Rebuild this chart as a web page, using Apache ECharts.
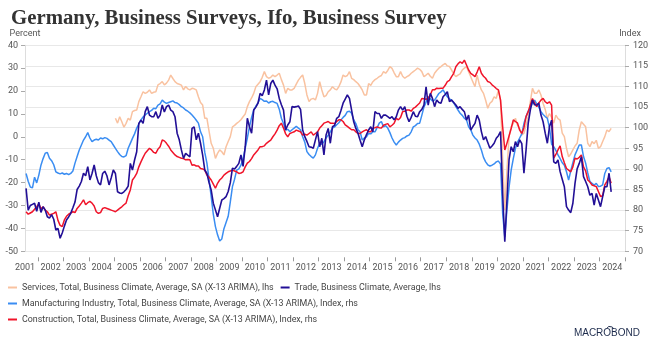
<!DOCTYPE html>
<html>
<head>
<meta charset="utf-8">
<script src="https://cdn.jsdelivr.net/npm/echarts@6/dist/echarts.min.js"></script>
<style>
  html, body { margin: 0; padding: 0; background: #ffffff; }
  #chart { width: 652px; height: 346px; }
</style>
</head>
<body>
<div id="chart"></div>
<script>
// Monthly categories, July 2001 .. December 2024
const months = [];
for (let y = 2001; y <= 2024; y++) {
  for (let mo = 1; mo <= 12; mo++) {
    if (y === 2001 && mo < 7) continue;
    months.push(y + '-' + String(mo).padStart(2, '0'));
  }
}

// Series names
const nameServices = 'Services, Total, Business Climate, Average, SA (X-13 ARIMA), lhs';
const nameTrade = 'Trade, Business Climate, Average, lhs';
const nameManufacturing = 'Manufacturing Industry, Total, Business Climate, Average, SA (X-13 ARIMA), Index, rhs';
const nameConstruction = 'Construction, Total, Business Climate, Average, SA (X-13 ARIMA), Index, rhs';

// Services balance (percent), monthly from Jul 2001; series begins Jan 2005
const services = [
  null, null, null, null, null, null,
  null, null, null, null, null, null, null, null, null, null, null, null,
  null, null, null, null, null, null, null, null, null, null, null, null,
  null, null, null, null, null, null, null, null, null, null, null, null,
  8.1, 6.0, 8.8, 6.6, 4.2, 5.9, 8.1, 7.3, 11.0, 11.5, 11.7, 15.4,
  17.5, 19.7, 19.0, 19.5, 20.5, 19.0, 19.5, 19.7, 22.7, 23.3, 24.1, 22.7,
  23.5, 24.8, 27.0, 25.5, 24.1, 23.3, 23.0, 22.6, 20.5, 22.0, 21.0, 20.5,
  21.2, 21.0, 20.5, 17.5, 15.0, 13.9, 8.1, 8.1, 2.5, -2.8, -5.0, -9.4,
  -7.2, -5.7, -6.5, -7.9, -4.3, -2.0, 0.1, 4.4, 5.0, 5.9, 6.6, 7.5,
  8.8, 10.0, 13.2, 15.4, 17.0, 19.0, 21.9, 23.0, 24.1, 26.0, 28.5, 26.3,
  25.6, 26.0, 27.0, 26.3, 27.0, 27.8, 25.0, 22.6, 19.0, 21.2, 20.5, 20.5,
  21.2, 23.0, 24.8, 26.0, 27.0, 23.3, 18.3, 15.4, 16.5, 16.8, 16.1, 19.0,
  24.1, 20.5, 17.5, 18.0, 19.7, 20.5, 21.9, 21.0, 20.5, 21.9, 24.0, 27.0,
  26.3, 26.8, 28.5, 25.6, 25.0, 24.1, 23.3, 22.0, 20.5, 18.3, 18.3, 23.3,
  22.5, 24.1, 25.0, 25.6, 26.3, 26.8, 28.5, 27.8, 29.0, 30.7, 29.9, 28.0,
  26.3, 26.3, 28.5, 26.5, 25.6, 26.3, 26.8, 27.8, 28.5, 29.2, 30.0, 29.5,
  28.5, 26.3, 27.0, 27.8, 26.5, 25.6, 27.8, 29.0, 30.0, 30.7, 31.5, 32.1,
  31.0, 30.7, 29.2, 27.5, 26.3, 27.0, 27.5, 29.2, 30.0, 30.7, 28.5, 26.3,
  24.0, 21.9, 27.0, 23.0, 20.5, 19.0, 16.0, 12.5, 14.7, 15.5, 17.5, 16.8,
  20.5, 16.0, -10.0, -32.0, -15.0, 0.1, 4.4, 5.9, 8.1, 5.0, 3.7, 0.8,
  1.6, 5.0, 8.8, 15.4, 21.2, 19.0, 19.0, 20.5, 18.3, 14.7, 12.0, 8.1,
  10.2, 8.5, 6.0, 9.5, 8.0, 7.3, 1.6, 0.1, -5.0, -8.7, -7.5, -5.7,
  -4.0, -2.8, 3.0, 6.6, 5.5, 4.4, -2.8, -4.3, -2.1, -3.0, -1.5, -5.0,
  -4.3, -2.0, 0.1, 3.0, 2.3, 3.7
];

// Trade balance (percent), monthly from Jul 2001
const trade = [
  -22.5, -32.0, -30.0, -29.5, -29.0, -32.5,
  -28.5, -33.0, -30.5, -32.0, -34.9, -35.5, -34.0, -36.0, -40.7, -40.0, -44.3, -42.0,
  -39.0, -36.3, -35.0, -33.4, -31.0, -28.5, -23.0, -21.5, -19.5, -15.9, -17.0, -13.0,
  -18.8, -16.0, -12.3, -17.0, -20.0, -21.0, -16.0, -15.0, -17.0, -21.0, -18.0, -14.5,
  -16.0, -24.0, -24.5, -24.7, -24.0, -23.0, -21.5, -11.6, -14.5, -10.1, -6.5, 5.9,
  7.3, 5.9, 11.0, 13.2, 9.5, 8.8, 8.8, 11.0, 8.1, 9.5, 13.9, 10.9,
  13.2, 13.9, 11.7, 11.0, 8.8, 1.6, -1.3, -5.7, -9.4, -7.2, -8.0, -8.7,
  3.7, 4.4, -1.3, 1.6, -2.8, -8.0, -14.5, -16.0, -20.0, -23.2, -29.0, -31.9,
  -34.9, -31.2, -27.6, -27.0, -26.1, -23.9, -20.0, -13.7, -14.0, -12.9, -11.6, -7.9,
  -12.9, -4.3, 8.1, 4.4, 1.6, 11.7, 13.0, 14.7, 19.0, 18.0, 20.5, 24.8,
  18.3, 23.3, 24.8, 22.6, 21.0, 16.8, 14.0, 11.7, 3.0, 5.2, 6.6, 13.2,
  13.0, 13.2, 13.5, 12.0, 3.0, 0.1, -2.0, -4.3, -4.5, -5.0, -1.3, 2.3,
  -4.3, -0.6, -7.9, 0.8, 3.7, -2.8, 4.4, 5.0, 8.1, 8.8, 11.5, 14.7,
  16.5, 18.3, 16.8, 11.7, 6.6, 3.7, 1.6, -1.5, -4.3, -1.3, 1.0, 3.0,
  4.4, 2.3, 11.0, 10.2, 10.2, 8.1, 9.5, 9.5, 8.8, 8.1, 8.8, 7.4,
  8.8, 11.7, 13.2, 11.7, 13.2, 9.0, 6.6, 8.5, 11.0, 9.0, 8.8, 11.0,
  12.0, 13.9, 21.9, 13.9, 19.0, 16.8, 13.2, 16.1, 15.0, 14.7, 17.5, 18.5,
  19.7, 15.4, 16.1, 15.0, 13.9, 12.5, 13.2, 12.0, 11.0, 7.3, 9.5, 3.0,
  4.5, 5.9, 9.5, 7.3, 2.3, -1.3, 0.1, -2.5, -5.0, -4.0, -2.8, -0.6,
  0.5, 2.3, -25.0, -45.8, -28.0, -10.0, -4.3, -6.5, -2.1, -4.3, -1.3, -3.0,
  -15.9, -5.7, 5.9, 11.7, 16.1, 14.0, 13.9, 14.7, 9.5, 6.6, 1.6, -2.8,
  4.4, 7.3, -10.9, -11.6, -10.1, -15.2, -18.5, -21.8, -30.5, -32.0, -33.1, -29.0,
  -20.3, -14.0, -11.6, -8.7, -17.4, -19.5, -21.8, -25.5, -24.7, -29.8, -24.7, -27.6,
  -30.5, -26.1, -21.8, -21.8, -15.9, -24.0
];

// Manufacturing index (2015 = 100), monthly from Jul 2001
const manufacturing = [
  88.9, 87.0, 85.6, 85.4, 88.0, 86.6,
  88.5, 90.9, 92.5, 93.8, 94.0, 92.6, 92.0, 91.0, 89.3, 89.0, 88.8, 89.0,
  88.7, 88.9, 88.6, 88.9, 89.5, 91.4, 93.0, 94.6, 95.8, 97.0, 97.8, 98.8,
  97.5, 96.6, 97.0, 97.2, 97.0, 97.5, 97.3, 97.6, 97.4, 97.0, 96.6, 95.8,
  95.0, 94.2, 93.5, 93.0, 92.9, 93.2, 95.0, 96.2, 97.4, 98.5, 99.9, 100.9,
  101.9, 102.6, 103.1, 103.5, 103.9, 104.2, 104.7, 104.6, 105.5, 105.8, 106.7, 106.2,
  105.9, 106.1, 106.3, 106.5, 106.1, 106.0, 105.6, 105.1, 104.8, 104.3, 104.0, 103.6,
  103.1, 102.5, 101.8, 101.1, 99.0, 97.8, 94.0, 91.4, 87.5, 83.3, 79.0, 76.0,
  74.0, 72.5, 73.0, 75.5, 77.0, 78.5, 82.0, 85.7, 87.5, 89.7, 90.0, 90.9,
  92.5, 95.0, 97.5, 100.2, 102.5, 104.3, 105.2, 106.0, 107.1, 106.8, 106.4, 106.5,
  106.0, 106.3, 106.4, 106.1, 105.9, 104.5, 102.3, 101.0, 99.4, 99.6, 99.0, 99.5,
  99.9, 100.3, 99.9, 99.5, 97.8, 96.5, 94.2, 93.5, 93.0, 92.6, 93.4, 95.0,
  96.2, 96.0, 96.6, 97.5, 98.2, 99.0, 99.9, 100.2, 100.7, 101.2, 101.9, 102.5,
  103.0, 103.9, 104.0, 103.5, 101.9, 101.0, 99.5, 99.0, 97.0, 97.5, 97.8, 98.6,
  98.5, 99.0, 99.0, 100.0, 101.1, 101.5, 100.2, 100.5, 99.9, 98.8, 97.5, 96.5,
  95.8, 96.5, 97.0, 97.4, 97.6, 98.0, 98.2, 99.0, 100.2, 100.5, 101.0, 101.1,
  103.0, 105.0, 106.2, 107.5, 107.0, 106.5, 106.7, 107.5, 108.3, 108.7, 109.2, 108.3,
  107.5, 107.0, 106.7, 106.0, 105.1, 104.3, 103.5, 103.0, 102.3, 101.9, 100.2, 99.5,
  98.2, 97.5, 97.0, 96.0, 94.6, 92.8, 91.7, 91.0, 90.7, 90.9, 91.2, 91.7,
  91.9, 91.2, 79.2, 73.5, 80.0, 85.5, 89.7, 92.5, 95.0, 96.5, 97.5, 98.5,
  101.0, 102.7, 104.0, 104.7, 106.0, 106.7, 105.8, 105.0, 103.9, 103.2, 102.7, 102.3,
  100.0, 96.0, 95.4, 94.5, 93.4, 92.5, 91.5, 90.9, 89.3, 87.3, 89.5, 91.5,
  93.4, 94.6, 95.8, 95.8, 93.0, 91.4, 89.0, 86.9, 86.5, 86.1, 86.5, 85.7,
  85.8, 86.1, 88.9, 90.1, 90.3, 89.3
];

// Construction index (2015 = 100), monthly from Jul 2001
const construction = [
  79.6, 79.0, 79.3, 79.6, 80.2, 80.8,
  81.5, 80.3, 80.8, 80.0, 79.6, 78.8, 79.0, 79.2, 79.6, 77.5, 76.3, 76.0,
  77.6, 78.5, 79.0, 79.3, 79.6, 79.4, 80.4, 81.0, 81.7, 82.5, 81.3, 81.8,
  82.1, 81.7, 81.0, 79.6, 79.2, 79.4, 80.4, 80.6, 80.4, 80.2, 80.0, 79.8,
  79.6, 80.0, 80.4, 80.8, 81.3, 81.7, 83.5, 84.9, 87.3, 88.0, 88.9, 90.5,
  91.7, 92.8, 93.8, 94.4, 95.0, 94.6, 94.0, 93.8, 94.8, 95.4, 97.0, 96.8,
  96.2, 95.5, 94.6, 94.0, 93.4, 93.0, 92.8, 92.6, 92.5, 92.2, 92.3, 92.2,
  90.9, 91.0, 90.7, 90.7, 90.1, 90.0, 89.7, 88.5, 88.0, 87.3, 86.3, 85.3,
  86.5, 87.3, 87.8, 88.5, 88.9, 89.3, 89.5, 89.7, 89.5, 89.3, 88.9, 89.0,
  89.3, 90.5, 91.4, 91.8, 92.5, 93.4, 94.0, 94.6, 95.4, 95.4, 95.6, 96.2,
  96.6, 97.0, 97.8, 98.5, 99.4, 100.5, 101.1, 99.9, 98.5, 97.8, 98.6, 98.8,
  99.0, 99.4, 99.2, 99.0, 98.2, 98.4, 98.2, 98.6, 99.0, 98.2, 98.6, 99.0,
  99.9, 100.5, 101.1, 101.3, 101.5, 101.1, 101.1, 101.0, 101.5, 101.9, 101.9, 101.5,
  100.7, 100.3, 99.9, 99.5, 99.5, 99.0, 98.6, 98.6, 99.0, 99.3, 99.5, 99.0,
  99.0, 99.9, 100.0, 100.2, 100.0, 99.9, 100.6, 100.8, 101.0, 100.2, 100.6, 101.1,
  102.3, 101.9, 102.5, 103.9, 104.0, 104.3, 104.3, 104.0, 104.7, 105.0, 105.5, 106.0,
  107.1, 107.0, 106.9, 107.1, 108.0, 109.2, 109.2, 109.6, 109.5, 109.6, 109.6, 110.3,
  111.2, 111.5, 112.4, 113.2, 114.8, 115.5, 116.0, 115.6, 116.4, 115.2, 114.0, 113.2,
  112.8, 112.4, 113.5, 114.8, 113.2, 112.5, 112.0, 111.2, 111.0, 110.4, 110.0, 109.5,
  109.2, 106.7, 100.2, 94.6, 96.2, 98.0, 99.8, 101.9, 101.5, 101.1, 99.4, 98.6,
  100.0, 102.7, 103.9, 105.5, 107.1, 106.0, 105.1, 106.0, 106.7, 107.1, 106.3, 105.9,
  106.3, 105.5, 92.6, 93.5, 94.6, 95.6, 93.0, 91.5, 90.1, 89.7, 89.3, 90.5,
  92.6, 92.4, 92.8, 93.4, 90.5, 89.5, 87.3, 86.8, 86.1, 85.9, 85.7, 84.5,
  83.3, 83.5, 86.1, 87.0, 88.1, 86.5
];

const colServices = '#f9c2a0';
const colTrade = '#220f96';
const colManufacturing = '#3a8df2';
const colConstruction = '#f0142a';

const axisFont = 'Roboto, sans-serif';
const labelColor = '#555555';

const chart = echarts.init(document.getElementById('chart'), null, { renderer: 'canvas' });

const legendBase = {
  left: 8, padding: 0, icon: 'rect', itemWidth: 9, itemHeight: 2, itemGap: 7,
  selectedMode: false,
  textStyle: { fontFamily: axisFont, fontSize: 8.9, color: '#444444' }
};

chart.setOption({
  animation: false,
  backgroundColor: '#ffffff',
  title: {
    text: 'Germany, Business Surveys, Ifo, Business Survey',
    left: 6, top: 3,
    textStyle: { fontFamily: 'Liberation Serif, serif', fontWeight: 'bold', fontSize: 20.8, color: '#333333' }
  },
  grid: { left: 25, right: 27, top: 45.3, height: 206, containLabel: false },
  legend: [
    Object.assign({}, legendBase, { top: 283, data: [nameServices, nameTrade] }),
    Object.assign({}, legendBase, { top: 299, data: [nameManufacturing] }),
    Object.assign({}, legendBase, { top: 315, data: [nameConstruction] })
  ],
  xAxis: {
    type: 'category',
    data: months,
    boundaryGap: true,
    offset: 6,
    axisLine: { show: false, onZero: false },
    axisTick: {
      show: true, length: 4,
      lineStyle: { color: '#999999' },
      interval: function (i, v) { return v.slice(5) === '01'; }
    },
    axisLabel: {
      interval: function (i, v) { return v.slice(5) === '07'; },
      formatter: function (v) { return v.slice(0, 4); },
      margin: 6, padding: [0, 2, 0, 0],
      fontFamily: axisFont, fontSize: 9, color: labelColor
    },
    splitLine: { show: false }
  },
  yAxis: [
    {
      type: 'value', position: 'left', min: -50, max: 40, interval: 10,
      name: 'Percent', nameLocation: 'end', nameGap: 7,
      nameTextStyle: { fontFamily: axisFont, fontSize: 9, color: labelColor },
      axisLine: { show: true, lineStyle: { color: '#dddddd' } },
      axisTick: { show: true, length: 4, lineStyle: { color: '#aaaaaa' } },
      axisLabel: { margin: 7, fontFamily: axisFont, fontSize: 9, color: labelColor },
      splitLine: { show: false }
    },
    {
      type: 'value', position: 'right', min: 70, max: 120, interval: 5,
      name: 'Index', nameLocation: 'end', nameGap: 7,
      nameTextStyle: { fontFamily: axisFont, fontSize: 9, color: labelColor, padding: [0, 0, 0, 10] },
      axisLine: { show: true, lineStyle: { color: '#dddddd' } },
      axisTick: { show: true, length: 4, lineStyle: { color: '#aaaaaa' } },
      axisLabel: { margin: 8, fontFamily: axisFont, fontSize: 9, color: labelColor },
      splitLine: { show: true, lineStyle: { color: '#e8e8e8', width: 1 } }
    }
  ],
  series: [
    {
      name: nameServices, type: 'line', yAxisIndex: 0, data: services,
      showSymbol: false, symbol: 'none', z: 2,
      lineStyle: { width: 1.5, color: colServices }, itemStyle: { color: colServices }
    },
    {
      name: nameTrade, type: 'line', yAxisIndex: 0, data: trade,
      showSymbol: false, symbol: 'none', z: 5,
      lineStyle: { width: 1.6, color: colTrade }, itemStyle: { color: colTrade }
    },
    {
      name: nameManufacturing, type: 'line', yAxisIndex: 1, data: manufacturing,
      showSymbol: false, symbol: 'none', z: 3,
      lineStyle: { width: 1.5, color: colManufacturing }, itemStyle: { color: colManufacturing }
    },
    {
      name: nameConstruction, type: 'line', yAxisIndex: 1, data: construction,
      showSymbol: false, symbol: 'none', z: 4,
      lineStyle: { width: 1.5, color: colConstruction }, itemStyle: { color: colConstruction }
    }
  ],
  graphic: [
    {
      type: 'text', right: 12, top: 328,
      style: {
        text: 'MACROBOND', fill: '#1d2b4c',
        font: '10px Liberation Sans, Arial, sans-serif'
      }
    },
    {
      type: 'arc', left: 604, top: 324,
      shape: { cx: 4, cy: 5, r: 4, startAngle: Math.PI * 1.15, endAngle: Math.PI * 1.85 },
      style: { stroke: '#1d2b4c', lineWidth: 1, fill: null }
    }
  ]
});
</script>
</body>
</html>
